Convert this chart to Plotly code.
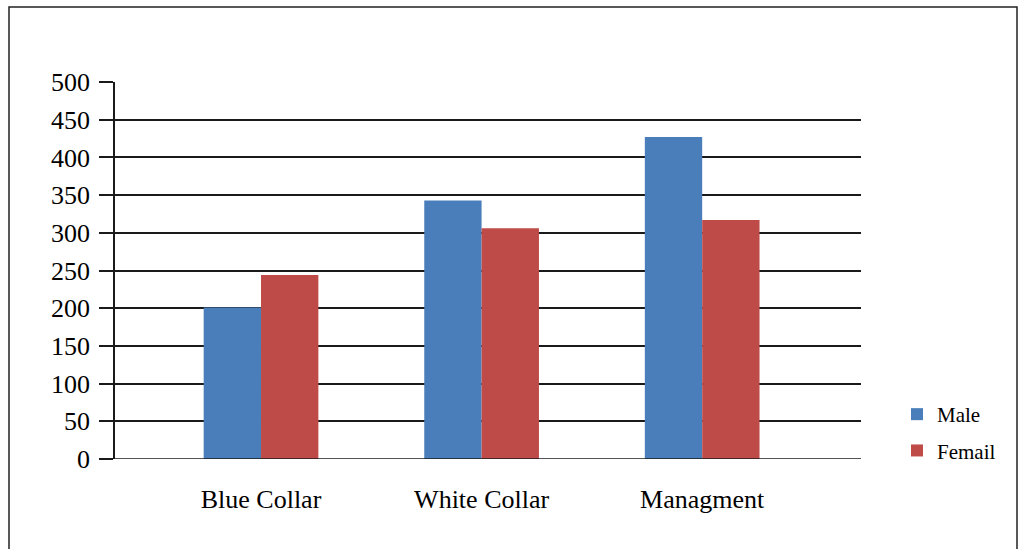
import plotly.graph_objects as go

categories = ["Blue Collar", "White Collar", "Managment"]
male = [201, 343, 427]
female = [244, 306, 317]
y_ticks = [0, 50, 100, 150, 200, 250, 300, 350, 400, 450, 500]

W, H = 1019, 549
L, R, T, B = 115, 158, 82, 90
pw = W - L - R
ph = H - T - B

def px_x(x):
    return (x - L) / pw

def px_y(y):
    return (H - B - y) / ph

fig = go.Figure()
fig.add_trace(go.Bar(name="Male", x=categories, y=male, legendgroup="m",
                     marker=dict(color="#4A7EBB", line=dict(width=0))))
fig.add_trace(go.Bar(name="Femail", x=categories, y=female, legendgroup="f",
                     marker=dict(color="#BE4B48", line=dict(width=0))))

fig.update_layout(
    width=W, height=H,
    margin=dict(l=L, r=R, t=T, b=B, pad=0),
    paper_bgcolor="white", plot_bgcolor="white",
    barmode="group", bargap=0.48, bargroupgap=0,
    font=dict(family="Liberation Serif", color="black"),
    showlegend=True,
    legend=dict(x=px_x(897), y=px_y(394), xanchor="left", yanchor="top",
                font=dict(size=21, family="Liberation Serif", color="black"),
                itemwidth=30, traceorder="grouped", tracegroupgap=6,
                bgcolor="rgba(0,0,0,0)"),
    xaxis=dict(range=[-0.662, 2.72], showgrid=False, zeroline=False,
               showline=False, ticks="", tickfont=dict(size=26), ticklabelstandoff=22),
    yaxis=dict(range=[0, 500], tickvals=y_ticks, showgrid=True, gridcolor="#1a1a1a", gridwidth=1.5,
               zeroline=False, showline=True, linecolor="#1a1a1a", linewidth=1.5,
               ticks="outside", ticklen=14, tickcolor="#1a1a1a", tickwidth=1.5,
               tickfont=dict(size=26), ticklabelstandoff=4),
)

# zero line / category axis
fig.add_shape(type="line", xref="paper", yref="y", x0=0, x1=1, y0=0, y1=0,
              line=dict(color="#1a1a1a", width=1.5))
# outer chart border
fig.add_shape(type="rect", xref="paper", yref="paper",
              x0=px_x(9), x1=px_x(1017), y0=px_y(560), y1=px_y(7),
              line=dict(color="#222222", width=1.5), fillcolor="rgba(0,0,0,0)", layer="below")

fig.write_html("out.html", config={"displayModeBar": False},
               post_script="document.body.style.margin='0';")
